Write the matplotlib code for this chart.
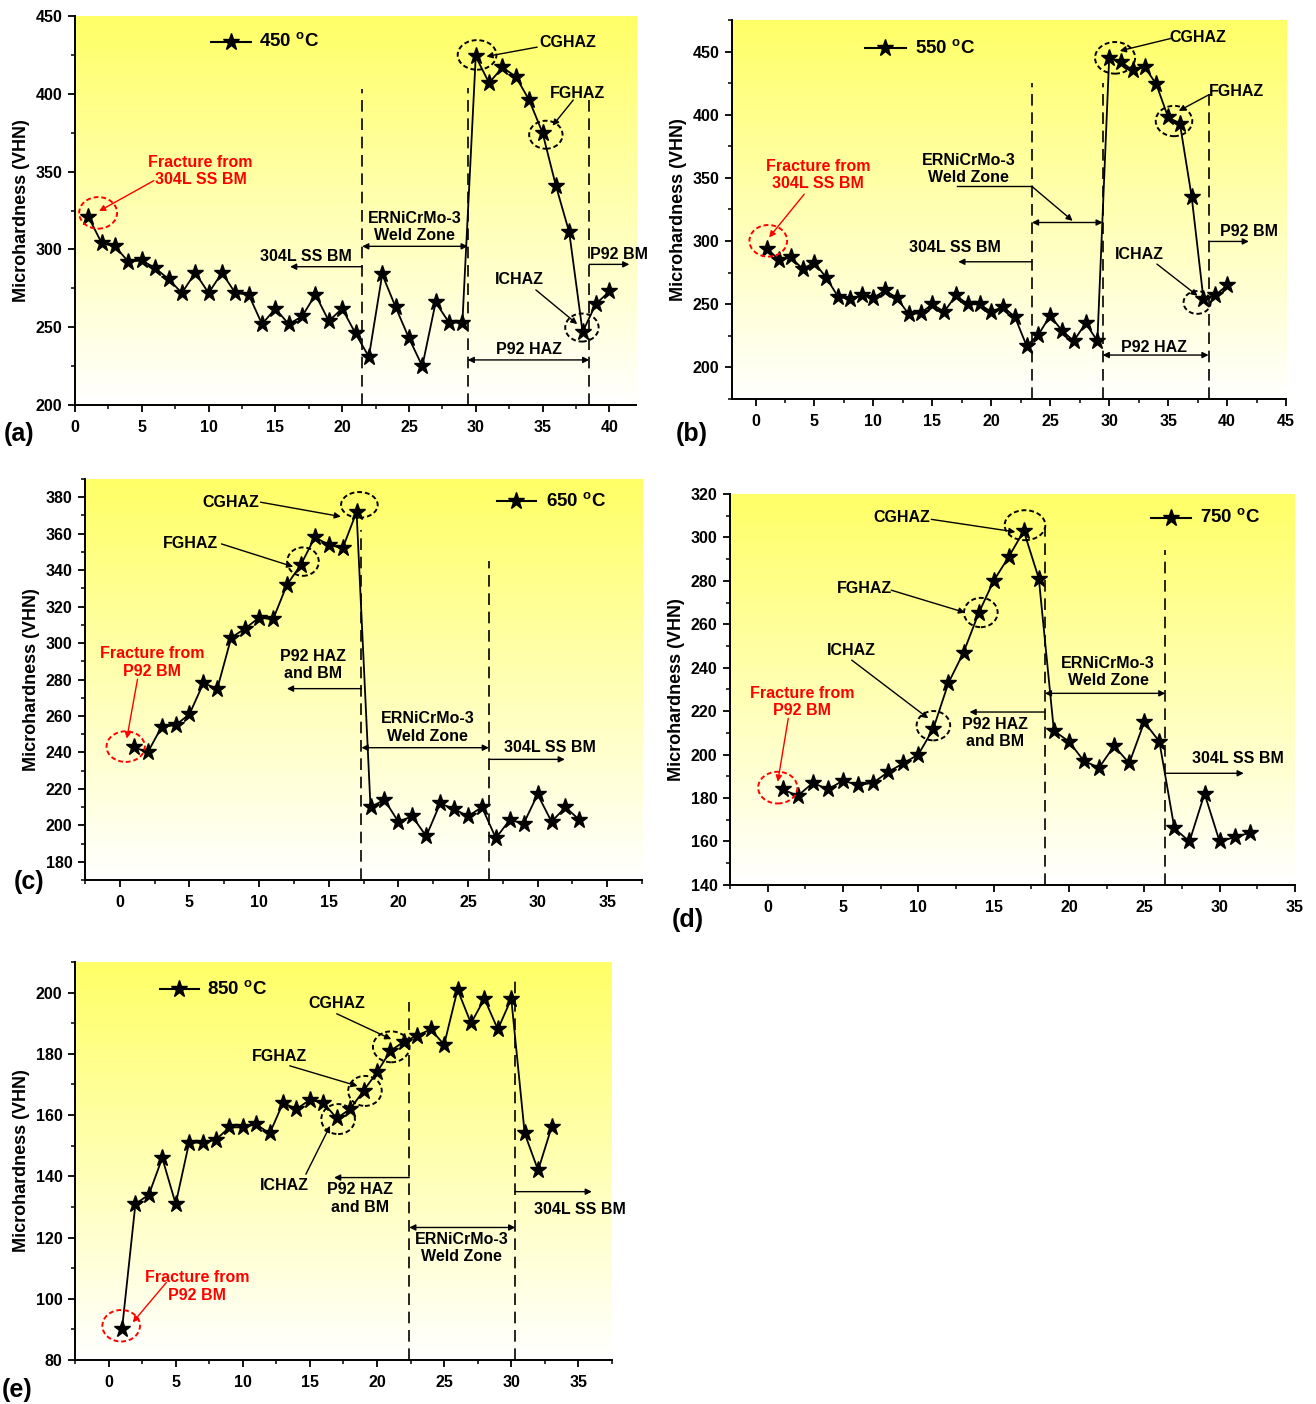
import numpy as np
import matplotlib as mpl
mpl.use('Agg')
import matplotlib.pyplot as plt
from matplotlib.patches import Ellipse
from matplotlib.ticker import MultipleLocator

plt.rcParams['font.family'] = ['Liberation Sans', 'DejaVu Sans']
plt.rcParams['font.weight'] = 'bold'
plt.rcParams['mathtext.fontset'] = 'custom'
plt.rcParams['mathtext.bf'] = 'Liberation Sans:bold'

# microhardness profiles (VHN) vs indent number
pos_450 = list(range(1, 41))
hv_450 = [321, 304, 302, 292, 293, 288, 281, 272, 285, 272, 285, 272, 271, 252, 262, 252, 257, 271, 254, 262,
          246, 231, 284, 263, 243, 225, 266, 253, 253, 424, 407, 417, 411, 396, 375, 341, 311, 247, 265, 273]

pos_550 = list(range(1, 41))
hv_550 = [294, 285, 287, 278, 283, 271, 256, 254, 257, 255, 261, 255, 242, 243, 250, 244, 257, 250, 250, 244,
          248, 240, 217, 226, 241, 229, 221, 235, 221, 445, 442, 435, 438, 424, 398, 393, 335, 254, 257, 265]

pos_650 = list(range(1, 34))
hv_650 = [243, 240, 254, 255, 261, 278, 275, 303, 308, 314, 313, 332, 343, 358, 354, 352, 372,
          210, 214, 202, 205, 194, 212, 209, 205, 210, 193, 203, 201, 217, 202, 210, 203]

pos_750 = list(range(1, 33))
hv_750 = [184, 181, 187, 184, 188, 186, 187, 192, 196, 200, 212, 233, 247, 265, 280, 291, 303,
          281, 211, 206, 197, 194, 204, 196, 215, 206, 166, 160, 182, 160, 162, 164]

pos_850 = list(range(1, 34))
hv_850 = [90, 131, 134, 146, 131, 151, 151, 152, 156, 156, 157, 154, 164, 162, 165, 164, 159,
          162, 168, 174, 181, 184, 186, 188, 183, 201, 190, 198, 188, 198, 154, 142, 156]

temps = ['450', '550', '650', '750', '850']

# zone boundaries (x position, top of dashed line)
bounds_450 = [(21.5, 403), (29.4, 404), (38.5, 400)]
bounds_550 = [(23.45, 425), (29.45, 425), (38.43, 417)]
bounds_650 = [(17.35, 362), (26.5, 345)]
bounds_750 = [(18.4, 305), (26.4, 294)]
bounds_850 = [(22.4, 197), (30.3, 205)]

TXT = dict(fontsize=11.5, fontweight='bold', ha='center', va='center')
ARW = dict(arrowstyle='-|>', color='k', lw=1.0, mutation_scale=9, shrinkA=0, shrinkB=0)
DARW = dict(arrowstyle='<|-|>', color='k', lw=1.0, mutation_scale=9, shrinkA=0, shrinkB=0)


def gradient_bg(ax):
    n = 256
    t = np.linspace(0, 1, n)[:, None]
    top = np.array([1.0, 1.0, 0.40])
    bot = np.array([1.0, 1.0, 1.0])
    img = (top * (1 - t) + bot * t).reshape(n, 1, 3)
    ax.imshow(img, extent=[0, 1, 0, 1], transform=ax.transAxes, aspect='auto', zorder=0)


def setup_axes(fig, rect, xlim, ylim, ymaj, ymin_):
    ax = fig.add_axes(rect)
    gradient_bg(ax)
    ax.set_xlim(*xlim)
    ax.set_ylim(*ylim)
    ax.spines['top'].set_visible(False)
    ax.spines['right'].set_visible(False)
    ax.spines['left'].set_linewidth(1.4)
    ax.spines['bottom'].set_linewidth(1.4)
    ax.xaxis.set_major_locator(MultipleLocator(5))
    ax.xaxis.set_minor_locator(MultipleLocator(2.5))
    ax.yaxis.set_major_locator(MultipleLocator(ymaj))
    ax.yaxis.set_minor_locator(MultipleLocator(ymin_))
    ax.tick_params(which='major', direction='out', length=5, width=1.3, labelsize=11.5, pad=4)
    ax.tick_params(axis='x', which='major', pad=6)
    ax.tick_params(which='minor', direction='out', length=3, width=1.1)
    ax.set_ylabel('Microhardness (VHN)', fontsize=13, fontweight='bold', labelpad=4)
    return ax


def draw_profile(ax, x, y, bounds, temp, leg_xy, ybot):
    for bx, btop in bounds:
        ax.plot([bx, bx], [ybot, btop], color='k', lw=1.2, ls=(0, (7, 4)), zorder=2)
    ax.plot(x, y, color='k', lw=1.3, marker='*', ms=12.5, mfc='k', mec='k', zorder=4)
    # legend handle drawn in data coordinates
    (x0, x1, yl, xt) = leg_xy
    ax.plot([x0, x1], [yl, yl], color='k', lw=1.5, zorder=4)
    ax.plot([(x0 + x1) / 2], [yl], marker='*', ms=12.5, color='k', zorder=4)
    ax.text(xt, yl, temp + r' $^{\mathbf{o}}$C', fontsize=13.5, fontweight='bold', ha='left', va='center')


def circle(ax, xy, w, h, color='k'):
    ax.add_patch(Ellipse(xy, w, h, fill=False, ec=color, lw=1.4, ls=(0, (2.5, 1.5)), zorder=5))


def arrow(ax, xy, xytext, color='k', double=False):
    props = dict(DARW if double else ARW)
    props['color'] = color
    ax.annotate('', xy=xy, xytext=xytext, arrowprops=props, zorder=5)


def txt(ax, xy, s, color='k'):
    ax.text(xy[0], xy[1], s, color=color, **TXT)


fig = plt.figure(figsize=(13.16, 14.04), dpi=100)

# (a) 450 C
ax = setup_axes(fig, [0.0570, 0.7115, 0.4263, 0.2771], (0, 42), (200, 450), 50, 25)
draw_profile(ax, pos_450, hv_450, bounds_450, temps[0], (10.15, 13.15, 433.5, 13.8), 200)
txt(ax, (9.4, 350.5), 'Fracture from\n304L SS BM', 'red')
arrow(ax, (1.8, 324.6), (5.9, 344.2), 'red')
circle(ax, (1.73, 323.5), 2.84, 20.3, 'red')
txt(ax, (25.4, 314.4), 'ERNiCrMo-3\nWeld Zone')
arrow(ax, (29.4, 302), (21.5, 302), double=True)
txt(ax, (17.3, 295.3), '304L SS BM')
arrow(ax, (16.1, 288.9), (21.5, 288.9))
txt(ax, (36.9, 433), 'CGHAZ')
arrow(ax, (30.8, 424), (34.6, 430))
circle(ax, (30.1, 425), 2.9, 19)
txt(ax, (37.6, 400), 'FGHAZ')
arrow(ax, (35.75, 379.5), (37.3, 396))
circle(ax, (35.25, 373.7), 2.5, 18)
txt(ax, (33.3, 280.7), 'ICHAZ')
arrow(ax, (37.6, 252), (34.5, 274))
circle(ax, (37.95, 249.8), 2.5, 18)
txt(ax, (34.0, 235.4), 'P92 HAZ')
arrow(ax, (38.5, 229), (29.4, 229), double=True)
txt(ax, (40.7, 296.8), 'P92 BM')
arrow(ax, (41.5, 290.4), (38.5, 290.4))

# (b) 550 C
ax = setup_axes(fig, [0.5562, 0.7158, 0.4210, 0.2700], (-2, 45), (175, 475), 50, 25)
draw_profile(ax, pos_550, hv_550, bounds_550, temps[1], (9.3, 12.75, 452.4, 13.5), 175)
txt(ax, (5.3, 352.5), 'Fracture from\n304L SS BM', 'red')
arrow(ax, (1.15, 302.9), (4.13, 337.1), 'red')
circle(ax, (1.08, 300.2), 3.2, 25, 'red')
txt(ax, (18.1, 357), 'ERNiCrMo-3\nWeld Zone')
ax.plot([17.06, 23.45], [343.2, 343.2], color='k', lw=1.0, zorder=5)
arrow(ax, (26.9, 316), (23.45, 343.2))
arrow(ax, (29.45, 314.7), (23.45, 314.7), double=True)
txt(ax, (16.9, 295), '304L SS BM')
arrow(ax, (17.2, 283.6), (23.45, 283.6))
txt(ax, (37.5, 461), 'CGHAZ')
arrow(ax, (30.9, 450.5), (35.3, 460.5))
circle(ax, (30.5, 445), 3.4, 25)
txt(ax, (40.8, 418), 'FGHAZ')
arrow(ax, (35.9, 403), (38.5, 416))
circle(ax, (35.5, 395), 3.1, 24)
txt(ax, (32.6, 289.7), 'ICHAZ')
arrow(ax, (37.5, 256.7), (34.05, 281.8))
circle(ax, (37.46, 251.4), 2.3, 18)
txt(ax, (33.8, 215.8), 'P92 HAZ')
arrow(ax, (38.43, 209.8), (29.45, 209.8), double=True)
txt(ax, (41.85, 307.6), 'P92 BM')
arrow(ax, (41.85, 299.7), (38.43, 299.7))

# (c) 650 C
ax = setup_axes(fig, [0.0646, 0.3732, 0.4233, 0.2856], (-2.5, 37.5), (170, 390), 20, 10)
draw_profile(ax, pos_650, hv_650, bounds_650, temps[2], (27.05, 29.9, 377.8, 30.6), 170)
txt(ax, (8.0, 377.3), 'CGHAZ')
arrow(ax, (15.87, 369.4), (10.1, 377.3))
circle(ax, (17.2, 375.8), 2.63, 14.1)
txt(ax, (5.1, 354.4), 'FGHAZ')
arrow(ax, (12.45, 341.9), (7.3, 354.4))
circle(ax, (13.15, 344.7), 2.27, 15.6)
txt(ax, (2.33, 289.4), 'Fracture from\nP92 BM', 'red')
arrow(ax, (0.5, 247.6), (1.27, 280.2), 'red')
circle(ax, (0.42, 243.2), 2.75, 16.8, 'red')
txt(ax, (13.9, 288), 'P92 HAZ\nand BM')
arrow(ax, (12.0, 275), (17.35, 275))
txt(ax, (22.1, 253.6), 'ERNiCrMo-3\nWeld Zone')
arrow(ax, (26.5, 242.6), (17.35, 242.6), double=True)
txt(ax, (30.9, 242.6), '304L SS BM')
arrow(ax, (31.95, 236.2), (26.5, 236.2))

# (d) 750 C
ax = setup_axes(fig, [0.5547, 0.3697, 0.4293, 0.2785], (-2.5, 35), (140, 320), 20, 10)
draw_profile(ax, pos_750, hv_750, bounds_750, temps[3], (25.45, 28.1, 309.1, 28.7), 140)
txt(ax, (8.9, 309.1), 'CGHAZ')
arrow(ax, (16.44, 302.5), (10.86, 308.3))
circle(ax, (17.08, 305.6), 2.7, 13.8)
txt(ax, (6.4, 276.5), 'FGHAZ')
arrow(ax, (13.1, 265.4), (8.2, 275.7))
circle(ax, (14.15, 265.4), 2.23, 13.5)
txt(ax, (5.58, 248.1), 'ICHAZ')
arrow(ax, (10.66, 216.7), (5.58, 243.5))
circle(ax, (11.0, 213.3), 2.23, 13.5)
txt(ax, (2.29, 224.3), 'Fracture from\nP92 BM', 'red')
arrow(ax, (0.67, 187.5), (1.37, 216.7), 'red')
circle(ax, (0.67, 184.8), 2.6, 14.6, 'red')
txt(ax, (15.1, 209.9), 'P92 HAZ\nand BM')
arrow(ax, (13.4, 219.6), (18.4, 219.6))
txt(ax, (22.6, 238), 'ERNiCrMo-3\nWeld Zone')
arrow(ax, (26.4, 228.2), (18.4, 228.2), double=True)
txt(ax, (31.2, 198.3), '304L SS BM')
arrow(ax, (31.6, 191.4), (26.4, 191.4))

# (e) 850 C
ax = setup_axes(fig, [0.0570, 0.0313, 0.4080, 0.2835], (-2.5, 37.5), (80, 210), 20, 10)
draw_profile(ax, pos_850, hv_850, bounds_850, temps[4], (3.82, 6.7, 201.1, 7.33), 80)
txt(ax, (17.0, 196.4), 'CGHAZ')
arrow(ax, (21.06, 184.8), (17.0, 193.1))
circle(ax, (21.06, 182.3), 2.73, 10.1)
txt(ax, (12.75, 179.3), 'FGHAZ')
arrow(ax, (18.55, 169.5), (13.5, 176.1))
circle(ax, (19.1, 167.9), 2.5, 9.8)
txt(ax, (13.1, 136.9), 'ICHAZ')
arrow(ax, (16.5, 156.5), (14.7, 140.7))
circle(ax, (17.1, 158.7), 2.5, 9.8)
txt(ax, (6.58, 104), 'Fracture from\nP92 BM', 'red')
arrow(ax, (1.8, 92.3), (4.3, 105.3), 'red')
circle(ax, (0.94, 91.2), 2.8, 10.3, 'red')
txt(ax, (18.7, 132.8), 'P92 HAZ\nand BM')
arrow(ax, (16.8, 139.6), (22.4, 139.6))
txt(ax, (26.3, 116.5), 'ERNiCrMo-3\nWeld Zone')
arrow(ax, (30.3, 123.3), (22.4, 123.3), double=True)
txt(ax, (35.1, 129.3), '304L SS BM')
arrow(ax, (36.0, 135), (30.3, 135))

# panel letters
for s, (px, py) in zip(['(a)', '(b)', '(c)', '(d)', '(e)'],
                       [(4, 434), (676, 434), (14, 882), (672, 920), (2, 1390)]):
    fig.text(px / 1316, 1 - py / 1404, s, fontsize=18, fontweight='bold', ha='left', va='center')

fig.savefig('out.png', dpi=100)
